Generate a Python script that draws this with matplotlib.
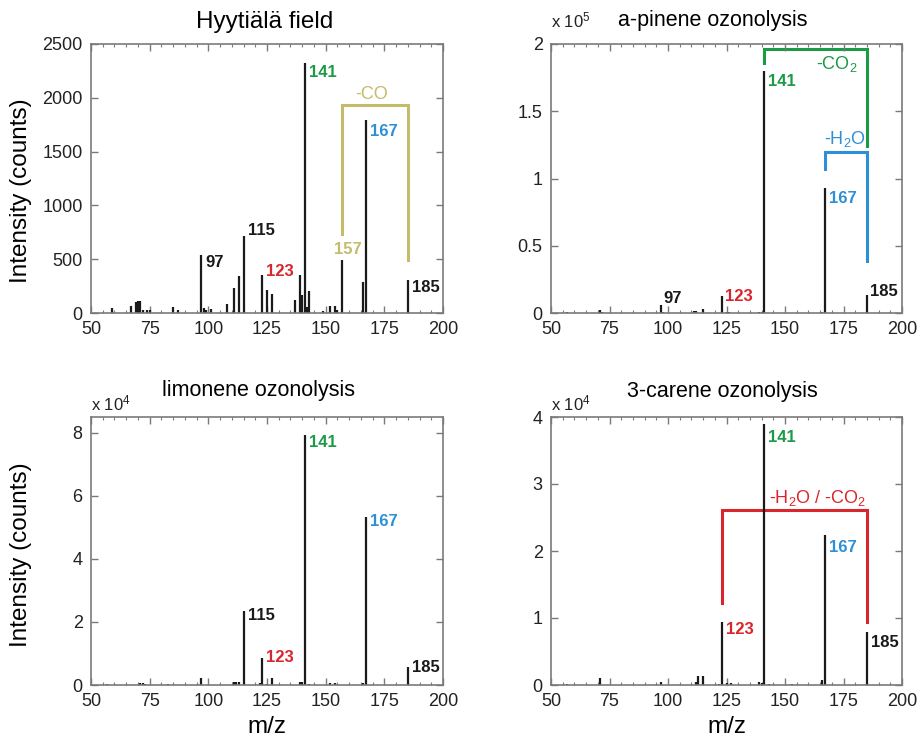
import matplotlib
matplotlib.use("Agg")
import matplotlib.pyplot as plt
from matplotlib.ticker import MultipleLocator, FuncFormatter

plt.rcParams["font.family"] = ["Liberation Sans", "DejaVu Sans"]
plt.rcParams["mathtext.fontset"] = "custom"
plt.rcParams["mathtext.rm"] = "Liberation Sans"
plt.rcParams["mathtext.it"] = "Liberation Sans:italic"
plt.rcParams["mathtext.bf"] = "Liberation Sans:bold"

# ---- data (m/z, intensity in counts) ----
hyy_mz = [59, 67, 69, 70, 71, 72, 74, 75, 85, 87, 97, 98, 99, 101, 108, 111, 113, 115,
          123, 125, 127, 137, 139, 140, 141, 142, 143, 149, 152, 154, 155, 157, 166, 167, 185]
hyy_int = [47, 62, 102, 110, 115, 30, 25, 25, 56, 25, 543, 47, 30, 37, 87, 233, 342, 714,
           351, 214, 180, 121, 351, 165, 2320, 53, 208, 22, 68, 68, 30, 497, 289, 1792, 304]

api_mz = [57, 71, 72, 97, 98, 111, 112, 115, 123, 125, 126, 139, 140, 141, 152, 166, 167, 185]
api_int = [500, 2500, 1000, 6200, 500, 1200, 1200, 3000, 12400, 800, 500, 1000, 1000,
           180000, 300, 1000, 92700, 13700]

lim_mz = [57, 71, 72, 73, 83, 97, 111, 112, 113, 115, 122, 123, 125, 127, 139, 140, 141,
          143, 152, 154, 166, 167, 185]
lim_int = [300, 500, 500, 400, 200, 2300, 800, 800, 800, 23500, 500, 8700, 400, 2300,
           1000, 800, 79400, 300, 500, 500, 600, 53300, 5600]

car_mz = [57, 71, 97, 112, 113, 115, 122, 123, 125, 127, 139, 140, 141, 143, 153, 166,
          167, 185]
car_int = [100, 1000, 400, 400, 1300, 1300, 200, 9450, 300, 300, 400, 300, 38900, 100,
           100, 700, 22400, 7860]

# labelled peaks and their colours
GREEN = "#1c9a47"
BLUE = "#2d8fd5"
RED = "#d8262c"
OLIVE = "#c4bb6c"
BLACK = "#1a1a1a"

hyy_labels = [97, 115, 123, 141, 157, 167, 185]
hyy_colors = [BLACK, BLACK, RED, GREEN, OLIVE, BLUE, BLACK]
api_labels = [97, 123, 141, 167, 185]
api_colors = [BLACK, RED, GREEN, BLUE, BLACK]
lim_labels = [115, 123, 141, 167, 185]
lim_colors = [BLACK, RED, GREEN, BLUE, BLACK]
car_labels = [123, 141, 167, 185]
car_colors = [RED, GREEN, BLUE, BLACK]

fig = plt.figure(figsize=(9.18, 7.4), dpi=100)
W, H = 918, 740


def make_ax(x0, x1, y0, y1):
    return fig.add_axes([x0 / W, 1 - y1 / H, (x1 - x0) / W, (y1 - y0) / H])


ax_hyy = make_ax(91, 443, 44, 313)
ax_api = make_ax(551, 902, 44, 313)
ax_lim = make_ax(91, 443, 417, 685)
ax_car = make_ax(551, 902, 417, 685)

fmt = FuncFormatter(lambda v, p: f"{v:g}")


def style(ax, ymax, ystep):
    ax.set_xlim(50, 200)
    ax.set_ylim(0, ymax)
    ax.xaxis.set_major_locator(MultipleLocator(25))
    ax.xaxis.set_minor_locator(MultipleLocator(5))
    ax.yaxis.set_major_locator(MultipleLocator(ystep))
    ax.yaxis.set_major_formatter(fmt)
    ax.tick_params(which="both", direction="in", top=True, right=True,
                   color="#7a7a7a", labelsize=13, labelcolor="#222222")
    ax.tick_params(which="major", length=5, width=1, pad=6)
    ax.tick_params(which="minor", length=2.5, width=0.8)
    for s in ax.spines.values():
        s.set_color("#7a7a7a")
        s.set_linewidth(1.2)


def draw(ax, mz, vals, scale, labels, colors, special):
    v = [x / scale for x in vals]
    ax.vlines(mz, 0, v, color=BLACK, lw=1.6, zorder=2)
    lookup = dict(zip(mz, v))
    for m, c in zip(labels, colors):
        dx, dy, va, ha = special.get(m, (3, 0, "top", "left"))
        ax.annotate(str(m), (m, lookup[m]), xytext=(dx, dy), textcoords="offset points",
                    ha=ha, va=va, color=c, fontsize=12, fontweight="bold")


def bracket(ax, x1, x2, ytop, yl, yr, color):
    ax.plot([x1, x1, x2, x2], [yl, ytop, ytop, yr], color=color, lw=2.2,
            solid_joinstyle="miter", zorder=1)


# Hyytiala field
style(ax_hyy, 2500, 500)
draw(ax_hyy, hyy_mz, hyy_int, 1, hyy_labels, hyy_colors,
     {115: (3, 4, "center", "left"), 123: (3, 3, "center", "left"),
      157: (4, 2, "bottom", "center"), 141: (3, -1, "top", "left"),
      167: (3, -3, "top", "left")})
bracket(ax_hyy, 157, 185, 1935, 730, 488, OLIVE)
ax_hyy.text(169.5, 2035, "-CO", color=OLIVE, fontsize=13, ha="center", va="center")
ax_hyy.set_ylabel("Intensity (counts)", fontsize=17.5)
ax_hyy.yaxis.set_label_coords(-0.168, 0.455)
ax_hyy.text(0.494, 1.06, "Hyytiälä field", transform=ax_hyy.transAxes, fontsize=17.5,
            ha="center", va="baseline")

# a-pinene
style(ax_api, 2, 0.5)
draw(ax_api, api_mz, api_int, 1e5, api_labels, api_colors,
     {97: (2, -1, "bottom", "left"), 123: (2, 0, "center", "left"),
      185: (2, -3, "bottom", "left"), 141: (3, -2, "top", "left"),
      167: (3, -2, "top", "left")})
bracket(ax_api, 141, 185, 1.963, 1.856, 1.242, GREEN)
bracket(ax_api, 167, 185, 1.197, 1.073, 0.39, BLUE)
ax_api.text(181, 1.85, "-CO$_2$", color=GREEN, fontsize=13, ha="right", va="center")
ax_api.text(184.5, 1.29, "-H$_2$O", color=BLUE, fontsize=13, ha="right", va="center")
ax_api.text(0.46, 1.068, "a-pinene ozonolysis", transform=ax_api.transAxes,
            fontsize=15.5, ha="center", va="baseline")
ax_api.text(0.0, 1.063, r"x 10$^5$", transform=ax_api.transAxes, fontsize=12,
            ha="left", va="baseline", color="#222222")

# limonene
style(ax_lim, 8.5, 2)
draw(ax_lim, lim_mz, lim_int, 1e4, lim_labels, lim_colors,
     {115: (3, 2, "top", "left"), 123: (3, 0, "center", "left"),
      185: (3, 0, "center", "left"), 167: (3, 2, "top", "left")})
ax_lim.set_ylabel("Intensity (counts)", fontsize=17.5)
ax_lim.yaxis.set_label_coords(-0.168, 0.487)
ax_lim.set_xlabel("m/z", fontsize=17.5)
ax_lim.xaxis.set_label_coords(0.5, -0.115)
ax_lim.text(0.475, 1.08, "limonene ozonolysis", transform=ax_lim.transAxes,
            fontsize=15.5, ha="center", va="baseline")
ax_lim.text(0.0, 1.025, r"x 10$^4$", transform=ax_lim.transAxes, fontsize=12,
            ha="left", va="baseline", color="#222222")

# 3-carene
style(ax_car, 4, 1)
draw(ax_car, car_mz, car_int, 1e4, car_labels, car_colors,
     {141: (3, -4, "top", "left"), 167: (3, -4, "top", "left"),
      185: (3, -2, "top", "left")})
bracket(ax_car, 123, 185, 2.61, 1.23, 0.935, RED)
ax_car.text(164, 2.79, "-H$_2$O / -CO$_2$", color=RED, fontsize=13, ha="center",
            va="center")
ax_car.set_xlabel("m/z", fontsize=17.5)
ax_car.xaxis.set_label_coords(0.5, -0.115)
ax_car.text(0.487, 1.075, "3-carene ozonolysis", transform=ax_car.transAxes,
            fontsize=15.5, ha="center", va="baseline")
ax_car.text(0.0, 1.025, r"x 10$^4$", transform=ax_car.transAxes, fontsize=12,
            ha="left", va="baseline", color="#222222")

fig.savefig("out.png", dpi=100)
